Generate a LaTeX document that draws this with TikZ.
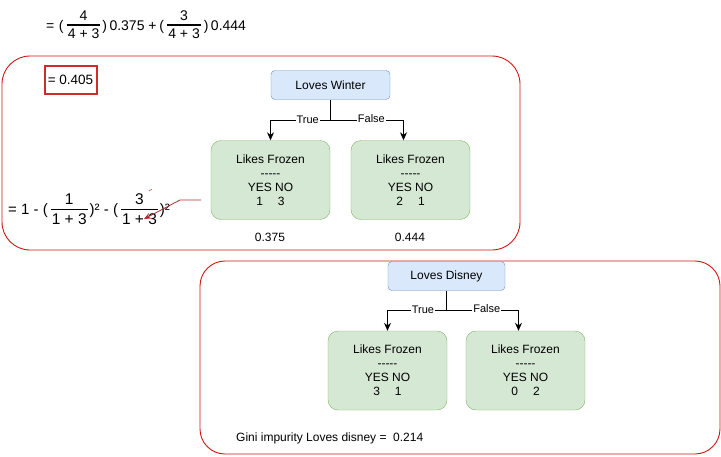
\documentclass[tikz,border=0pt]{standalone}
\usepackage{fontspec}
\setmainfont{Liberation Sans}
\usetikzlibrary{arrows.meta}
\definecolor{groupred}{RGB}{210,20,20}
\definecolor{boxred}{RGB}{205,45,40}
\definecolor{arrred}{RGB}{170,50,50}
\definecolor{bluefill}{HTML}{DAE8FC}
\definecolor{bluedraw}{HTML}{6C8EBF}
\definecolor{greenfill}{HTML}{D5E8D4}
\definecolor{greendraw}{HTML}{82B366}
% size, baselineskip, denominator strut, numerator, denominator
\newcommand\myfrac[5]{{\fontsize{#1}{#2}\selectfont\setlength\arrayrulewidth{1.4pt}\renewcommand\arraystretch{1}%
  \begin{tabular}[c]{@{\hspace{1pt}}c@{\hspace{1pt}}}#4\\\hline\rule{0pt}{#3}#5\end{tabular}}}
\newcommand\yesno[2]{#1\hspace{15pt}#2}
\newcommand\fivedash{\mbox{-}\mbox{-}\mbox{-}\mbox{-}\mbox{-}}
\begin{document}
\begin{tikzpicture}[x=1pt,y=-1pt,
  groupbox/.style={draw=groupred,line width=0.9pt,rounded corners=28pt},
  rootbox/.style={draw=bluedraw,fill=bluefill,rounded corners=4pt,minimum width=119pt,minimum height=29pt,inner sep=0pt,font=\fontsize{12}{14}\selectfont},
  leafbox/.style={draw=greendraw,fill=greenfill,rounded corners=10pt,minimum width=119pt,minimum height=79pt,inner sep=0pt,align=center,font=\fontsize{12}{14}\selectfont},
  edge/.style={draw=black,line width=0.9pt,-{Stealth[length=8pt,width=7pt]}},
  lbl/.style={fill=white,inner sep=1pt,font=\fontsize{11}{13}\selectfont},
  plain/.style={inner sep=0pt,font=\fontsize{12}{14}\selectfont},
  formula/.style={inner sep=0pt,anchor=west}]
\useasboundingbox (0,0) rectangle (721,456);

% group frames
\draw[groupbox] (2,56) rectangle (520,250);
\draw[groupbox,rounded corners=25pt] (200,261) rectangle (720,454);

% top formula
\node[formula,font=\fontsize{14}{16}\selectfont] (f1) at (46,26.5) {=\hspace{4.5pt}(\hspace{3.3pt}\myfrac{14}{13.3pt}{12.6pt}{4}{4 + 3}\hspace{2pt})\hspace{2.5pt}0.375 +\hspace{2.8pt}(\hspace{3.2pt}\myfrac{14}{13.3pt}{12.6pt}{3}{4 + 3}\hspace{3pt})\hspace{2.5pt}0.444};

% boxed result
\node[draw=boxred,line width=2pt,minimum width=52pt,minimum height=28pt,inner sep=0pt,font=\fontsize{13.5}{15}\selectfont] (res) at (70.5,79.5) {= 0.405};

% bottom-left formula
\node[formula,font=\fontsize{15}{17}\selectfont] (f2) at (8,211) {= 1 - (\hspace{3pt}\myfrac{15.5}{14.7pt}{14pt}{1}{1 + 3}\hspace{2pt})²\ - (\hspace{3pt}\myfrac{15.5}{14.7pt}{14pt}{3}{1 + 3}\hspace{2pt})²};

% tree 1
\node[rootbox] (lw) at (330.5,85) {Loves Winter};
\node[leafbox] (a1) at (270.5,180) {Likes Frozen\\\fivedash\\YES NO\\\yesno{1}{3}};
\node[leafbox] (a2) at (410.5,180) {Likes Frozen\\\fivedash\\YES NO\\\yesno{2}{1}};
\coordinate (b1) at (330.5,120);
\draw[edge] (lw.south) -- (b1) -| node[lbl,pos=0.19] {True} (a1.north);
\draw[edge] (b1) -| node[lbl,pos=0.28,yshift=1pt] {False} ([xshift=-7pt]a2.north);
\node[plain] (g1) at (270,237) {0.375};
\node[plain] (g2) at (410,237) {0.444};

% red annotation arrow
\coordinate (rs) at (201,200);
\coordinate (rk) at (180,200);
\coordinate (rt) at (144,219);
\draw[arrred,line width=0.8pt,-{Stealth[length=7pt,width=6pt]}] (rs) -- (rk) -- (rt);
\coordinate (tk1) at (149,190.5);
\coordinate (tk2) at (152,189.5);
\draw[arrred,line width=0.6pt] (tk1) -- (tk2);

% tree 2
\node[rootbox,minimum width=117pt] (ld) at (446.5,276) {Loves Disney};
\node[leafbox] (c1) at (387.5,370.5) {Likes Frozen\\\fivedash\\YES NO\\\yesno{3}{1}};
\node[leafbox] (c2) at (525.5,370.5) {Likes Frozen\\\fivedash\\YES NO\\\yesno{0}{2}};
\coordinate (b2) at (446.5,310);
\draw[edge] (ld.south) -- (b2) -| node[lbl,pos=0.2] {True} (c1.north);
\draw[edge] (b2) -| node[lbl,pos=0.28,yshift=1pt] {False} ([xshift=-7pt]c2.north);
\node[plain,anchor=west] (gini) at (236,438) {Gini impurity Loves disney =\ \ 0.214};
\end{tikzpicture}
\end{document}
